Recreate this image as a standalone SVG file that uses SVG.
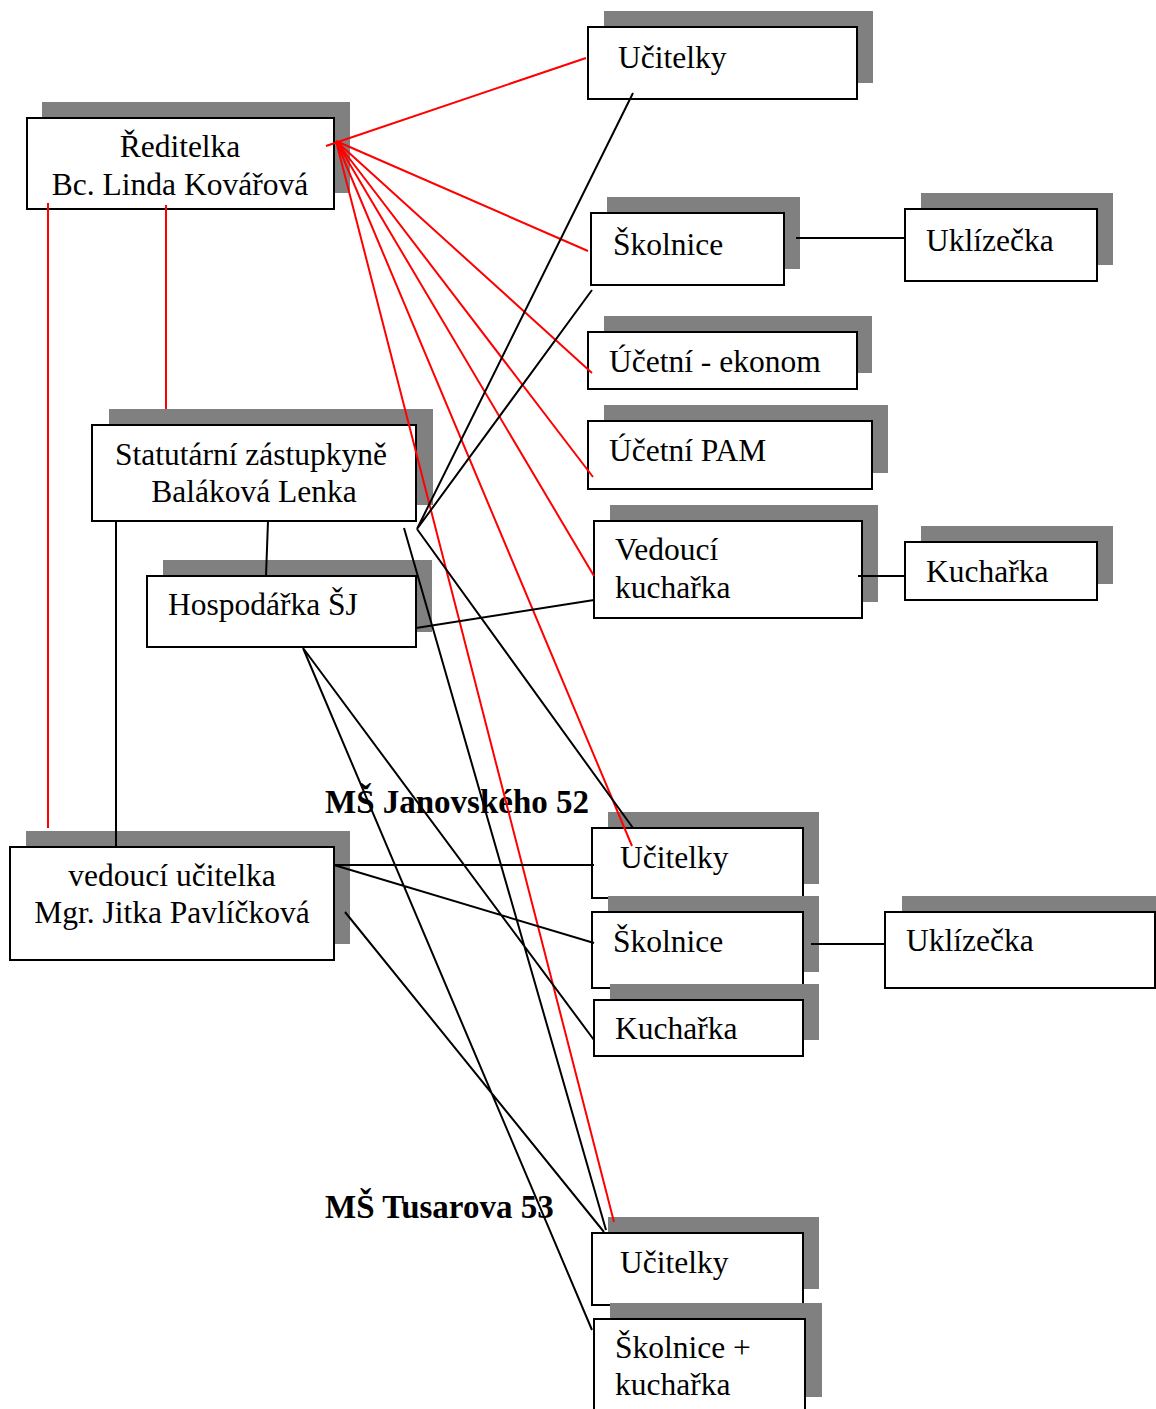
<svg xmlns="http://www.w3.org/2000/svg" width="1156" height="1409" viewBox="0 0 1156 1409">
<style>
.sh{fill:#808080;stroke:none}
.bx{fill:#fff;stroke:#000;stroke-width:2}
.t{font-family:"Liberation Serif","Times New Roman",serif;font-size:31.5px;fill:#000}
.c{text-anchor:middle}
.b{font-family:"Liberation Serif","Times New Roman",serif;font-size:33px;font-weight:bold;fill:#000}
.k{stroke:#000;stroke-width:2;fill:none}
.r{stroke:#f00;stroke-width:2;fill:none}
</style>
<rect width="1156" height="1409" fill="#fff"/>
<g id="reditelka"><rect class="sh" x="42" y="102" width="308" height="91"/><rect class="bx" x="27" y="118" width="307" height="91"/><text class="t c" x="180" y="157">Ředitelka</text><text class="t c" x="180" y="195">Bc. Linda Kovářová</text></g>
<g id="ucitelky1"><rect class="sh" x="604" y="11" width="269" height="72"/><rect class="bx" x="588" y="27" width="269" height="72"/><text class="t" x="618" y="68">Učitelky</text></g>
<g id="skolnice1"><rect class="sh" x="607" y="197" width="193" height="72"/><rect class="bx" x="591" y="213" width="193" height="72"/><text class="t" x="613" y="255">Školnice</text></g>
<g id="uklizecka1"><rect class="sh" x="921" y="193" width="192" height="72"/><rect class="bx" x="905" y="209" width="192" height="72"/><text class="t" x="926" y="251">Uklízečka</text></g>
<g id="ekonom"><rect class="sh" x="604" y="316" width="268" height="57"/><rect class="bx" x="588" y="332" width="269" height="57"/><text class="t" x="609" y="372">Účetní - ekonom</text></g>
<g id="pam"><rect class="sh" x="604" y="405" width="284" height="68"/><rect class="bx" x="588" y="421" width="284" height="68"/><text class="t" x="609" y="461">Účetní PAM</text></g>
<g id="statutarni"><rect class="sh" x="109" y="409" width="324" height="96"/><rect class="bx" x="92" y="425" width="324" height="96"/><text class="t c" x="251" y="465">Statutární zástupkyně</text><text class="t c" x="254" y="502">Baláková Lenka</text></g>
<g id="vedouci-kucharka"><rect class="sh" x="610" y="505" width="268" height="97"/><rect class="bx" x="594" y="521" width="268" height="97"/><text class="t" x="615" y="560">Vedoucí</text><text class="t" x="615" y="598">kuchařka</text></g>
<g id="kucharka1"><rect class="sh" x="921" y="526" width="192" height="58"/><rect class="bx" x="905" y="542" width="192" height="58"/><text class="t" x="926" y="582">Kuchařka</text></g>
<g id="hospodarka"><rect class="sh" x="163" y="560" width="269" height="72"/><rect class="bx" x="147" y="576" width="269" height="71"/><text class="t" x="168" y="615">Hospodářka ŠJ</text></g>
<g id="vedouci-ucitelka"><rect class="sh" x="26" y="831" width="324" height="113"/><rect class="bx" x="10" y="847" width="324" height="113"/><text class="t c" x="172" y="886">vedoucí učitelka</text><text class="t c" x="172" y="923">Mgr. Jitka Pavlíčková</text></g>
<g id="label-janovskeho"><text class="b" x="325" y="813">MŠ Janovského 52</text></g>
<g id="ucitelky2"><rect class="sh" x="608" y="812" width="211" height="72"/><rect class="bx" x="592" y="828" width="211" height="70"/><text class="t" x="620" y="868">Učitelky</text></g>
<g id="skolnice2"><rect class="sh" x="608" y="896" width="211" height="76"/><rect class="bx" x="592" y="912" width="211" height="76"/><text class="t" x="613" y="952">Školnice</text></g>
<g id="uklizecka2"><rect class="sh" x="902" y="896" width="254" height="76"/><rect class="bx" x="885" y="912" width="270" height="76"/><text class="t" x="906" y="951">Uklízečka</text></g>
<g id="kucharka2"><rect class="sh" x="610" y="984" width="209" height="56"/><rect class="bx" x="594" y="1000" width="209" height="56"/><text class="t" x="615" y="1039">Kuchařka</text></g>
<g id="label-tusarova"><text class="b" x="325" y="1218">MŠ Tusarova 53</text></g>
<g id="ucitelky3"><rect class="sh" x="608" y="1217" width="211" height="72"/><rect class="bx" x="592" y="1233" width="211" height="72"/><text class="t" x="620" y="1273">Učitelky</text></g>
<g id="skolnice-kucharka"><rect class="sh" x="610" y="1303" width="212" height="94"/><rect class="bx" x="594" y="1319" width="211" height="100"/><text class="t" x="615" y="1358">Školnice +</text><text class="t" x="615" y="1395">kuchařka</text></g>
<g id="connectors">
<path class="r" d="M48 203V828M166 205V409"/>
<path class="r" d="M326 146L586 58M336 141L588 251M336 141L592 373M336 141L593 477M336 141L594 576M336 141L632 846M336 141L614 1222"/>
<path class="k" d="M633 93L417 529L592 290M417 529L633 828"/>
<path class="k" d="M796 238H905M858 576H905M811 944H885"/>
<path class="k" d="M268 521L266 576M416 628L594 600M116 521V847"/>
<path class="k" d="M334 865H594M334 865L594 943M345 912L604 1232M404 528L606 1230M303 648L594 1040M303 648L592 1330"/>
</g>
</svg>
